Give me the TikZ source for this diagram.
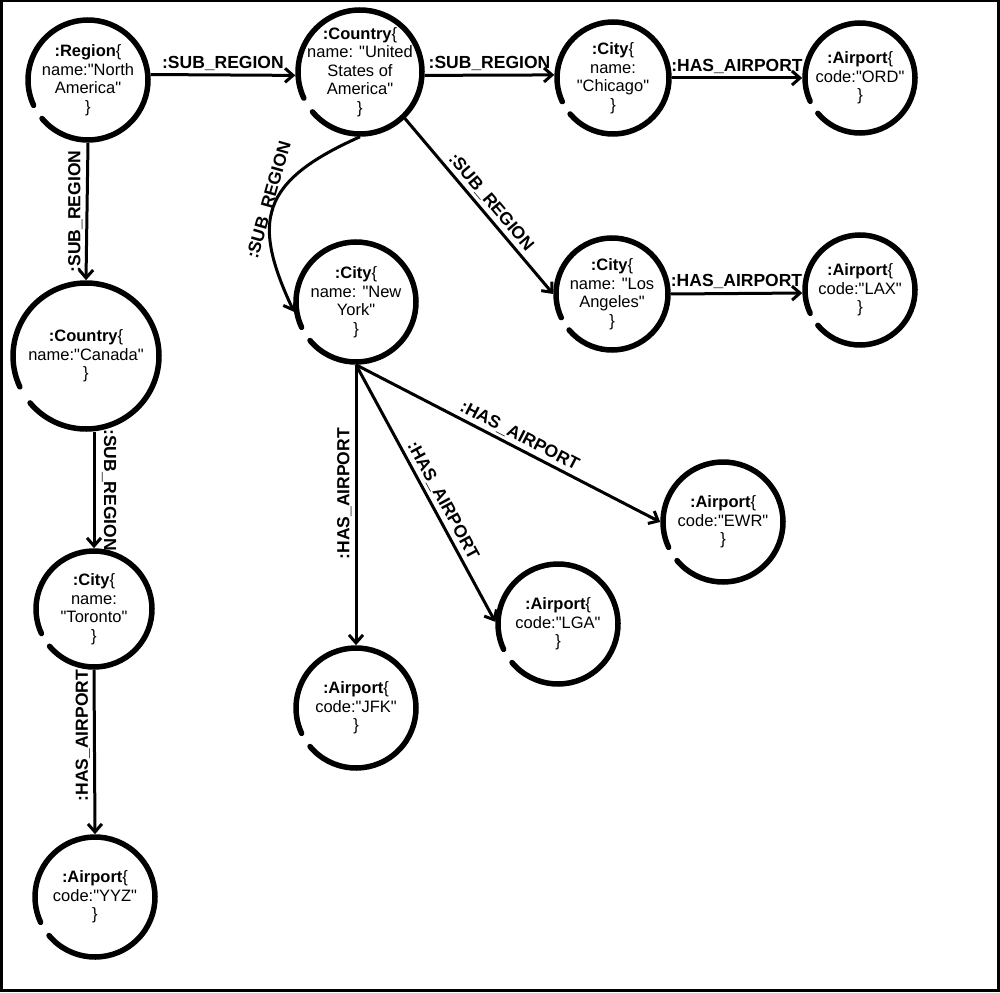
\documentclass[tikz,border=0pt]{standalone}
\usepackage{fontspec}
\setmainfont{Liberation Sans}
\newfontfamily\plainsans{Liberation Sans}
\usetikzlibrary{arrows.meta}
\begin{document}
\begin{tikzpicture}[x=1pt,y=1pt,
  gnode/.style={circle, minimum size=#1, inner sep=0pt, outer sep=2.8pt},
  ntext/.style={align=center, inner sep=0pt, font=\plainsans\fontsize{16.5}{18.5}\selectfont},
  ring/.style={line width=5.5pt, line cap=round},
  rel/.style={line width=3pt, -{Straight Barb[length=8pt,width=14pt]}},
  lbl/.style={font=\plainsans\fontsize{17.5}{19}\selectfont\bfseries, inner sep=3pt}
]
\useasboundingbox (0,0) rectangle (1000,-992);
\draw[line width=2.5pt] (1.25,-1.25) rectangle (998.5,-990.5);

\node[gnode=120, label={[ntext]center:{\textbf{:Region}\{\\name:"North\\America"\\\}}}] (reg) at (88,-80) {};
\node[gnode=124, label={[ntext]center:{\textbf{:Country}\{\\name: "United\\States of\\America"\\\}}}] (usa) at (360,-72) {};
\node[gnode=112, label={[ntext]center:{\textbf{:City}\{\\name:\\"Chicago"\\\}}}] (chi) at (613,-78) {};
\node[gnode=110, label={[ntext]center:{\textbf{:Airport}\{\\code:"ORD"\\\}}}] (ord) at (860,-78) {};
\node[gnode=112, label={[ntext]center:{\textbf{:City}\{\\name: "Los\\Angeles"\\\}}}] (la) at (612,-294) {};
\node[gnode=110, label={[ntext]center:{\textbf{:Airport}\{\\code:"LAX"\\\}}}] (lax) at (860,-290) {};
\node[gnode=146, label={[ntext]center:{\textbf{:Country}\{\\name:"Canada"\\\}}}] (can) at (86,-356) {};
\node[gnode=120, label={[ntext]center:{\textbf{:City}\{\\name: "New\\York"\\\}}}] (ny) at (356,-302) {};
\node[gnode=116, label={[ntext]center:{\textbf{:City}\{\\name:\\"Toronto"\\\}}}] (tor) at (94,-609) {};
\node[gnode=120, label={[ntext]center:{\textbf{:Airport}\{\\code:"YYZ"\\\}}}] (yyz) at (95,-897) {};
\node[gnode=120, label={[ntext]center:{\textbf{:Airport}\{\\code:"JFK"\\\}}}] (jfk) at (356,-708) {};
\node[gnode=120, label={[ntext]center:{\textbf{:Airport}\{\\code:"LGA"\\\}}}] (lga) at (558,-624) {};
\node[gnode=120, label={[ntext]center:{\textbf{:Airport}\{\\code:"EWR"\\\}}}] (ewr) at (723,-522) {};

\foreach \n/\r in {reg/60,usa/62,chi/56,ord/55,la/56,lax/55,can/73,ny/60,tor/58,yyz/60,jfk/60,lga/60,ewr/60}
  \draw[ring] (\n.center) ++(220:\r pt) arc[start angle=220,end angle=565,radius=\r pt];

\draw[rel] (reg.5) -- node[lbl,above]{:SUB\_REGION} (usa.183);
\draw[rel] (usa.357) -- node[lbl,above]{:SUB\_REGION} (chi.177);
\draw[rel] (chi.east) -- node[lbl,above]{:HAS\_AIRPORT} (ord.west);
\draw[rel] (la.east) -- node[lbl,above]{:HAS\_AIRPORT} (lax.183);
\draw[rel] (reg.south) -- node[lbl,rotate=90,anchor=south]{:SUB\_REGION} (can.north);
\draw[rel] (can.south -| tor.north) -- node[lbl,rotate=-90,anchor=south,inner sep=6.5pt]{:SUB\_REGION} (tor.north);
\draw[rel] (tor.south) -- node[lbl,pos=0.4,rotate=90,anchor=south]{:HAS\_AIRPORT} (yyz.north);
\draw[rel] (ny.south) -- node[lbl,pos=0.46,rotate=90,anchor=south]{:HAS\_AIRPORT} (jfk.north);
\draw[rel] (ny.south) -- node[lbl,pos=0.55,sloped,above]{:HAS\_AIRPORT} (lga.178);
\draw[rel] (ny.south) -- node[lbl,pos=0.52,sloped,above]{:HAS\_AIRPORT} (ewr.west);
\draw[rel] (usa.-46) -- node[lbl,pos=0.52,sloped,above]{:SUB\_REGION} (la.west);
\draw[rel] (usa.270) to[out=204,in=115,out distance=110pt,in distance=100pt] node[lbl,pos=0.52,sloped,above,inner sep=0pt,xshift=9pt,yshift=-3pt]{:SUB\_REGION} (ny.189);
\end{tikzpicture}
\end{document}
